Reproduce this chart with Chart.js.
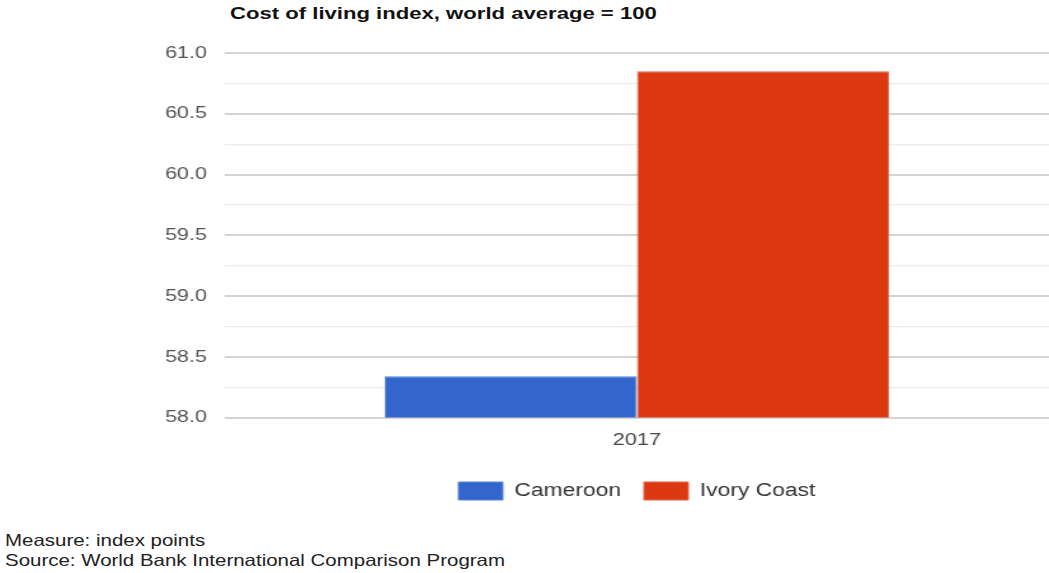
<!DOCTYPE html>
<html>
<head>
<meta charset="utf-8">
<script src="https://cdn.jsdelivr.net/npm/chart.js@4"></script>
<style>
  html,body{margin:0;padding:0;background:#fff;}
  body{width:1049px;height:573px;position:relative;overflow:hidden;font-family:"Liberation Sans",Arial,sans-serif;}
  #title{position:absolute;left:230px;top:4px;font-size:17px;font-weight:bold;color:#111;white-space:nowrap;transform:scaleX(1.3);transform-origin:left top;}
  #wrap{position:absolute;left:0;top:0;width:826px;height:510px;transform:scaleX(1.27);transform-origin:left top;}
  #foot{position:absolute;left:5px;top:530px;font-size:16.5px;line-height:20px;color:#222;white-space:nowrap;transform:scaleX(1.24);transform-origin:left top;}
</style>
</head>
<body>
<div id="title">Cost of living index, world average = 100</div>
<div id="wrap"><canvas id="c"></canvas></div>
<div id="foot">Measure: index points<br>Source: World Bank International Comparison Program</div>
<script>
/* cost of living bar chart */
const years = ['2017'];
const cameroon = [58.34];
const ivoryCoast = [60.85];
const yMin = 58.0, yMax = 61.0, yStep = 0.25;

(function(){
  const el = document.getElementById('c');
  new Chart(el, {
    type: 'bar',
    data: {labels: years, datasets: [
      {label: 'Cameroon', data: cameroon, backgroundColor: '#3366cc', borderColor: '#5a86d9', borderWidth: 1},
      {label: 'Ivory Coast', data: ivoryCoast, backgroundColor: '#dc3912', borderColor: '#e8684a', borderWidth: 1}
    ]},
    options: {
      responsive: true, maintainAspectRatio: false, animation: false,
      layout: {padding: {top: 53, right: 0, left: 0, bottom: 0}},
      datasets: {bar: {categoryPercentage: 0.612, barPercentage: 1}},
      scales: {
        x: {
          grid: {display: false, drawTicks: false},
          border: {display: false},
          ticks: {color: '#444', font: {family: 'Liberation Sans', size: 17}, padding: 13}
        },
        y: {
          min: yMin, max: yMax,
          afterFit: function(s){ s.width = 177; },
          border: {display: false},
          grid: {drawTicks: false,
            color: function(c){ return Math.round(c.tick.value / yStep) % 2 === 0 ? '#d4d4d4' : '#ececec'; },
            lineWidth: function(c){ return Math.round(c.tick.value / yStep) % 2 === 0 ? 2 : 1.2; }},
          ticks: {stepSize: yStep, padding: 14, color: '#555', font: {family: 'Liberation Sans', size: 17},
            callback: function(v){ return Math.round(v / yStep) % 2 === 0 ? v.toFixed(1) : ''; }}
        }
      },
      plugins: {
        legend: {position: 'bottom', fullSize: false,
          labels: {boxWidth: 35, boxHeight: 18, padding: 18, color: '#333', font: {family: 'Liberation Sans', size: 18}}},
        tooltip: {enabled: false}
      }
    }
  });
})();
</script>
</body>
</html>
